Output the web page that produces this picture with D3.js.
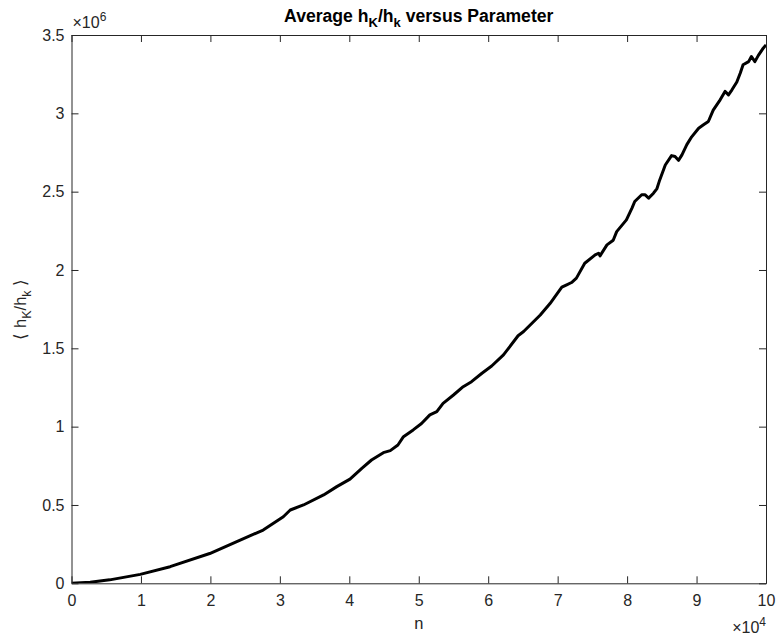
<!DOCTYPE html>
<html>
<head>
<meta charset="utf-8">
<script src="https://cdn.jsdelivr.net/npm/d3@7"></script>
<style>
  body { margin: 0; background: #fff; }
  svg { display: block; font-family: "Liberation Sans", Arial, Helvetica, sans-serif; }
</style>
</head>
<body>
<svg id="chart" width="778" height="639"></svg>
<script>
// n values (units of 1e4) and average h_K/h_k values (units of 1e6)
var nValues = [0, 0.27, 0.55, 0.99, 1.42, 1.99, 2.38, 2.76, 3.05, 3.15,
    3.34, 3.63, 3.82, 4.01, 4.18, 4.32, 4.49, 4.59, 4.70, 4.78,
    4.92, 5.04, 5.16, 5.26, 5.35, 5.50, 5.64, 5.76, 5.91, 6.05,
    6.22, 6.43, 6.51, 6.75, 6.89, 7.06, 7.13, 7.20, 7.27, 7.39,
    7.54, 7.59, 7.61, 7.71, 7.80, 7.85, 7.99, 8.07, 8.11, 8.21,
    8.26, 8.31, 8.38, 8.43, 8.47, 8.55, 8.64, 8.69, 8.74, 8.79,
    8.86, 8.93, 9.03, 9.10, 9.17, 9.24, 9.34, 9.41, 9.46, 9.51,
    9.58, 9.63, 9.67, 9.75, 9.79, 9.84, 9.89, 9.96, 10.0]
var avgValues = [0, 0.007, 0.022, 0.057, 0.106, 0.19, 0.266, 0.34, 0.425, 0.468,
    0.50, 0.564, 0.617, 0.665, 0.734, 0.787, 0.834, 0.847, 0.883, 0.936,
    0.979, 1.02, 1.075, 1.096, 1.149, 1.202, 1.255, 1.287, 1.341, 1.387,
    1.458, 1.58, 1.607, 1.713, 1.786, 1.89, 1.905, 1.92, 1.948, 2.043,
    2.096, 2.107, 2.09, 2.16, 2.19, 2.245, 2.32, 2.395, 2.437, 2.48,
    2.48, 2.459, 2.49, 2.52, 2.575, 2.67, 2.73, 2.724, 2.70, 2.735,
    2.80, 2.85, 2.905, 2.927, 2.948, 3.02, 3.086, 3.14, 3.118, 3.15,
    3.20, 3.257, 3.31, 3.33, 3.363, 3.33, 3.37, 3.416, 3.437]

var xTicks = [0, 1, 2, 3, 4, 5, 6, 7, 8, 9, 10]
var yTicks = [0, 0.5, 1, 1.5, 2, 2.5, 3, 3.5]

var data = nValues.map(function(n, i) {
    return { n: n * 1e4, v: avgValues[i] * 1e6 }
})

var plotLeft = 71.5, plotRight = 766, plotTop = 35, plotBottom = 583.3
var axisColor = '#262626'

var svg = d3.select('#chart')

var x = d3.scaleLinear().domain([0, 1e5]).range([plotLeft, plotRight])
var y = d3.scaleLinear().domain([0, 3.5e6]).range([plotBottom, plotTop])

svg.append('clipPath').attr('id', 'clip')
    .append('rect')
    .attr('x', plotLeft).attr('y', plotTop - 2)
    .attr('width', plotRight - plotLeft + 2).attr('height', plotBottom - plotTop + 2)

// curve
var line = d3.line()
    .x(function(d) { return x(d.n) })
    .y(function(d) { return y(d.v) })

svg.append('path')
    .datum(data)
    .attr('clip-path', 'url(#clip)')
    .attr('fill', 'none')
    .attr('stroke', '#000')
    .attr('stroke-width', 3)
    .attr('stroke-linejoin', 'round')
    .attr('d', line)

// axes (ticks point inward, box on)
function styleAxis(g) {
    g.selectAll('path').attr('stroke', axisColor).attr('stroke-width', 1)
    g.selectAll('line').attr('stroke', axisColor).attr('stroke-width', 1)
    g.selectAll('text').attr('fill', axisColor).style('font-size', '16px')
        .style('font-family', '"Liberation Sans", Arial, sans-serif')
}

svg.append('g')
    .attr('transform', 'translate(0,' + plotBottom + ')')
    .call(d3.axisBottom(x)
        .tickValues(xTicks.map(function(t) { return t * 1e4 }))
        .tickFormat(function(d) { return d / 1e4 })
        .tickSizeInner(-7).tickSizeOuter(0).tickPadding(11))
    .call(styleAxis)

svg.append('g')
    .attr('transform', 'translate(0,' + plotTop + ')')
    .call(d3.axisTop(x)
        .tickValues(xTicks.map(function(t) { return t * 1e4 }))
        .tickFormat('')
        .tickSizeInner(-7).tickSizeOuter(0))
    .call(styleAxis)

svg.append('g')
    .attr('transform', 'translate(' + plotLeft + ',0)')
    .call(d3.axisLeft(y)
        .tickValues(yTicks.map(function(t) { return t * 1e6 }))
        .tickFormat(function(d) { return d / 1e6 })
        .tickSizeInner(-7).tickSizeOuter(0).tickPadding(7))
    .call(styleAxis)

svg.append('g')
    .attr('transform', 'translate(' + plotRight + ',0)')
    .call(d3.axisRight(y)
        .tickValues(yTicks.map(function(t) { return t * 1e6 }))
        .tickFormat('')
        .tickSizeInner(-7).tickSizeOuter(0))
    .call(styleAxis)

// exponent labels
var e6 = svg.append('text')
    .attr('x', plotLeft + 1).attr('y', 28)
    .attr('fill', axisColor).style('font-size', '16px')
e6.append('tspan').text('\u00d710')
e6.append('tspan').attr('dy', -7).style('font-size', '12px').text('6')

var e4 = svg.append('text')
    .attr('x', plotRight).attr('y', 633)
    .attr('text-anchor', 'end')
    .attr('fill', axisColor).style('font-size', '16px')
e4.append('tspan').text('\u00d710')
e4.append('tspan').attr('dy', -7).style('font-size', '12px').text('4')

// title
var title = svg.append('text')
    .attr('x', (plotLeft + plotRight) / 2).attr('y', 22)
    .attr('text-anchor', 'middle')
    .attr('fill', '#000')
    .style('font-size', '17.6px').style('font-weight', 'bold')
title.append('tspan').text('Average h')
title.append('tspan').attr('dy', 5).style('font-size', '13px').text('K')
title.append('tspan').attr('dy', -5).text('/h')
title.append('tspan').attr('dy', 5).style('font-size', '13px').text('k')
title.append('tspan').attr('dy', -5).text(' versus Parameter')

// x label
svg.append('text')
    .attr('x', (plotLeft + plotRight) / 2).attr('y', 629)
    .attr('text-anchor', 'middle')
    .attr('fill', axisColor)
    .style('font-size', '16.5px')
    .text('n')

// y label
var ylab = svg.append('text')
    .attr('transform', 'translate(26,' + ((plotTop + plotBottom) / 2) + ') rotate(-90)')
    .attr('text-anchor', 'middle')
    .attr('fill', axisColor)
    .style('font-size', '16.5px')
ylab.append('tspan').text('\u27e8 h')
ylab.append('tspan').attr('dy', 5).style('font-size', '12.5px').text('K')
ylab.append('tspan').attr('dy', -5).text('/h')
ylab.append('tspan').attr('dy', 5).style('font-size', '12.5px').text('k')
ylab.append('tspan').attr('dy', -5).text(' \u27e9')
</script>
</body>
</html>
